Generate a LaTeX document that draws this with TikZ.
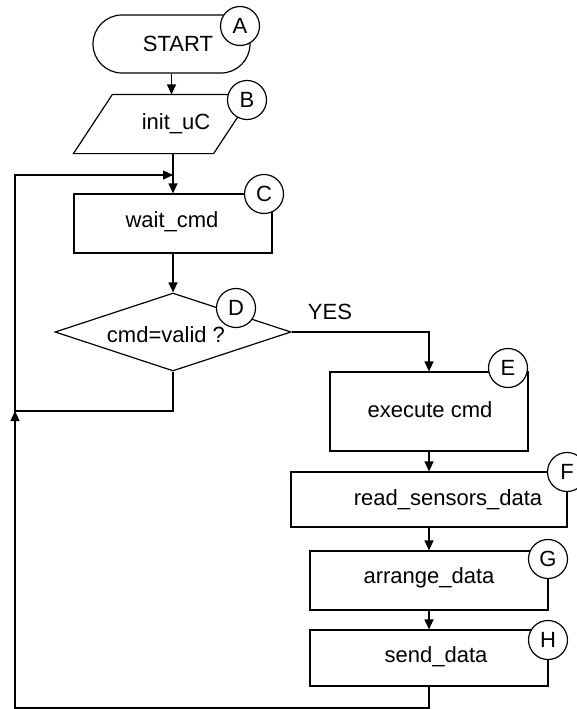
\documentclass[tikz,border=0pt]{standalone}
\usepackage{fontspec}
\setmainfont{Liberation Sans}
\usetikzlibrary{shapes.geometric,arrows.meta,calc}
\begin{document}
\begin{tikzpicture}[x=1pt,y=-1pt,
  line width=1.2pt,
  every node/.style={font=\fontsize{22}{25}\selectfont},
  box/.style={draw,rectangle,inner sep=0pt,minimum width=#1},
  term/.style={draw,rectangle,rounded corners=29pt,inner sep=0pt,minimum width=157pt,minimum height=58pt},
  paraframe/.style={rectangle,inner sep=0pt,minimum width=178pt,minimum height=58pt},
  dia/.style={draw,diamond,inner sep=0pt,minimum width=236pt,minimum height=78pt},
  tag/.style={draw,circle,fill=white,inner sep=0pt,minimum size=39pt},
  txt/.style={inner sep=0pt},
  arr/.style={-{Triangle[length=10pt,width=9pt]}}]
\useasboundingbox (0,0) rectangle (576,709);
% shapes
\node[term] (A) at (171.5,44) {};
\node[paraframe] (B) at (163,124) {};
\draw ($(B.north west)+(39,0)$) -- (B.north east) -- ($(B.south east)+(-39,0)$) -- (B.south west) -- cycle;
\node[box=198pt,minimum height=59pt] (C) at (173,223.5) {};
\node[dia] (D) at (173,332) {};
\node[box=198pt,minimum height=79pt] (E) at (429,411.5) {};
\node[box=276pt,minimum height=55pt] (F) at (429,499.5) {};
\node[box=238pt,minimum height=59pt] (G) at (429,580.5) {};
\node[box=238pt,minimum height=56pt] (H) at (429,658) {};
% texts
\node[txt] (tA) at (178,44) {START};
\node[txt] (tB) at (176,124) {init\_uC};
\node[txt] (tC) at (172,222) {wait\_cmd};
\node[txt] (tD) at (166,335) {cmd=valid ?};
\node[txt] (tY) at (330,312) {YES};
\node[txt] (tE) at (430,410) {execute cmd};
\node[txt] (tF) at (448,500) {read\_sensors\_data};
\node[txt] (tG) at (429,578) {arrange\_data};
\node[txt] (tH) at (436,657) {send\_data};
% coordinates
\coordinate (L1) at (15,175);
\coordinate (L2) at (15,411);
\coordinate (L3) at (15,708);
% connectors
\draw[arr] (A.south) -- (A.south |- B.north);
\draw[arr] (C.north |- B.south) -- (C.north);
\draw[arr] (D.south) |- (L2) -- (L1) -- (C.north |- L1);
\draw[arr] (C.south) -- (D.north);
\draw[arr] (D.east) -| (E.north);
\draw[arr] (E.south) -- (F.north);
\draw[arr] (F.south) -- (G.north);
\draw[arr] (G.south) -- (H.north);
\draw[arr] (H.south) |- (L3) -- (L2);
% tags
\node[tag] (cA) at (240,26) {A};
\node[tag] (cB) at (247,100) {B};
\node[tag] (cC) at (264,194) {C};
\node[tag] (cD) at (236,308) {D};
\node[tag] (cE) at (508,368) {E};
\node[tag] (cF) at (567,472) {F};
\node[tag] (cG) at (548,559) {G};
\node[tag] (cH) at (548,640) {H};
\end{tikzpicture}
\end{document}
